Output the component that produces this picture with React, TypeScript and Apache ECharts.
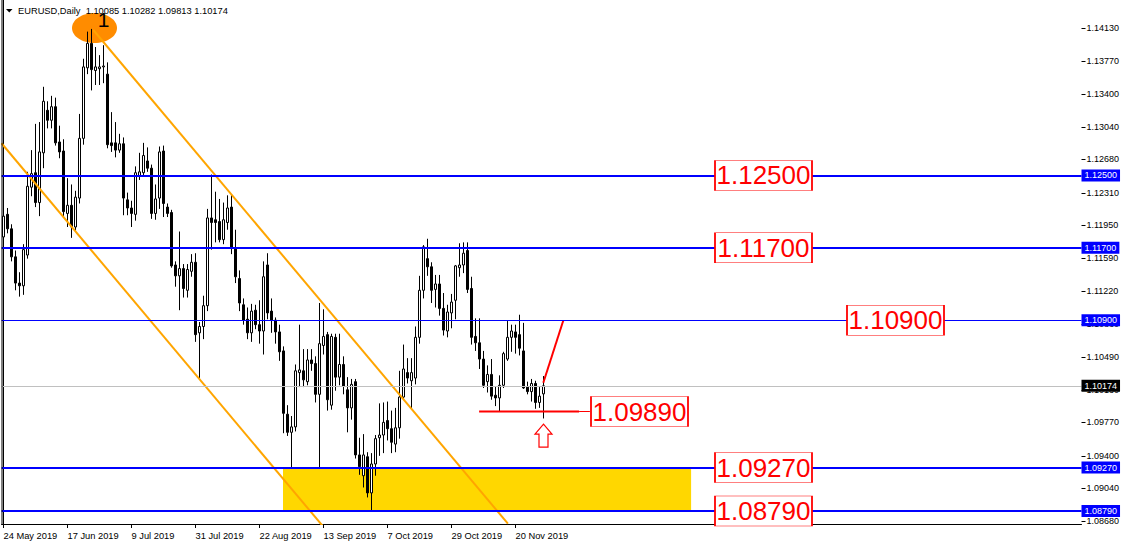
import React, { useEffect, useRef } from "react";
import * as echarts from "echarts";

// ---------- data ----------
const MONTHS = ["Jan", "Feb", "Mar", "Apr", "May", "Jun", "Jul", "Aug", "Sep", "Oct", "Nov", "Dec"];
const FIRST_DAY = [2019, 4, 24];
const N_SLOTS = 270; // visible bar slots incl. empty right shift

// daily bars: [open, high, low, close]
const ohlc: number[][] = [
  [1.1182, 1.1215, 1.1176, 1.1205], [1.1207, 1.1214, 1.1186, 1.1191], [1.1191, 1.1196, 1.1155, 1.116],
  [1.116, 1.1167, 1.1123, 1.1131], [1.1131, 1.1143, 1.1116, 1.1128], [1.1128, 1.1174, 1.1118, 1.1168],
  [1.1162, 1.1254, 1.1158, 1.1238], [1.1237, 1.1278, 1.1227, 1.1252], [1.1253, 1.1307, 1.1215, 1.122],
  [1.122, 1.1309, 1.1205, 1.1276], [1.1275, 1.1348, 1.1258, 1.1332], [1.1322, 1.1332, 1.1302, 1.1311],
  [1.1311, 1.1338, 1.1302, 1.1326], [1.1326, 1.1336, 1.1283, 1.1286], [1.1287, 1.1305, 1.1269, 1.1276],
  [1.1277, 1.129, 1.1204, 1.121], [1.1208, 1.1247, 1.1193, 1.1217], [1.1217, 1.124, 1.1181, 1.1193],
  [1.1193, 1.1233, 1.1189, 1.1226], [1.1225, 1.1318, 1.1219, 1.1291], [1.1291, 1.1379, 1.1284, 1.137],
  [1.1369, 1.1409, 1.1362, 1.1396], [1.1396, 1.1412, 1.1344, 1.1367], [1.1366, 1.1392, 1.135, 1.137],
  [1.1368, 1.1383, 1.135, 1.137], [1.137, 1.1394, 1.1352, 1.1371], [1.1362, 1.1375, 1.128, 1.1284],
  [1.1286, 1.132, 1.1276, 1.1283], [1.1286, 1.1309, 1.127, 1.1278], [1.1278, 1.1296, 1.1275, 1.1285],
  [1.1285, 1.1292, 1.1206, 1.1225], [1.1223, 1.1231, 1.1206, 1.1214], [1.1214, 1.1222, 1.1193, 1.1208],
  [1.1207, 1.126, 1.12, 1.1253], [1.1249, 1.1275, 1.1245, 1.1254], [1.1253, 1.1286, 1.125, 1.1272],
  [1.1266, 1.1281, 1.1254, 1.1258], [1.1258, 1.1262, 1.1202, 1.1208], [1.1208, 1.124, 1.1201, 1.1224],
  [1.1225, 1.1282, 1.1213, 1.1276], [1.1277, 1.1283, 1.1204, 1.1219], [1.1215, 1.1219, 1.1204, 1.1208],
  [1.1209, 1.1212, 1.1148, 1.115], [1.1151, 1.1155, 1.1127, 1.1139], [1.1139, 1.1188, 1.1101, 1.1147],
  [1.1147, 1.1152, 1.1115, 1.1125], [1.1123, 1.1152, 1.1115, 1.1146], [1.1144, 1.1163, 1.1138, 1.1154],
  [1.1154, 1.1164, 1.1066, 1.1074], [1.1076, 1.1088, 1.1026, 1.1083], [1.1083, 1.1117, 1.1069, 1.1106],
  [1.1106, 1.1213, 1.11, 1.1203], [1.1203, 1.1251, 1.1168, 1.1198], [1.1201, 1.1232, 1.1176, 1.1198],
  [1.1199, 1.1224, 1.1176, 1.1179], [1.1179, 1.122, 1.1174, 1.1201], [1.1198, 1.1228, 1.119, 1.1214],
  [1.1215, 1.1229, 1.1163, 1.117], [1.117, 1.119, 1.1131, 1.1138], [1.1136, 1.1145, 1.11, 1.1109],
  [1.1107, 1.1114, 1.1085, 1.109], [1.1091, 1.1104, 1.1069, 1.1076], [1.1076, 1.1108, 1.1066, 1.11],
  [1.1101, 1.1107, 1.108, 1.1085], [1.1085, 1.1112, 1.1064, 1.1078], [1.1078, 1.1155, 1.1052, 1.1138],
  [1.1151, 1.1164, 1.1091, 1.1098], [1.11, 1.1114, 1.1076, 1.109], [1.109, 1.1093, 1.1064, 1.1077],
  [1.1077, 1.1085, 1.1045, 1.1055], [1.1056, 1.1061, 1.0965, 1.0987], [1.0986, 1.0996, 1.0962, 1.0966],
  [1.0966, 1.0984, 1.0926, 1.0972], [1.0972, 1.1041, 1.0967, 1.1034], [1.1032, 1.1085, 1.1016, 1.1035],
  [1.1034, 1.1058, 1.1016, 1.1024], [1.1022, 1.1058, 1.1018, 1.1046], [1.1046, 1.1058, 1.1034, 1.1042],
  [1.1042, 1.105, 1.0999, 1.1008], [1.1008, 1.1109, 1.0927, 1.1064], [1.1062, 1.1102, 1.1052, 1.1072],
  [1.1074, 1.1077, 1.099, 1.1002], [1.0996, 1.1075, 1.0991, 1.1072], [1.1071, 1.1075, 1.1012, 1.1027],
  [1.1027, 1.1075, 1.1018, 1.1041], [1.1041, 1.105, 1.1008, 1.1017], [1.1013, 1.1027, 1.0966, 1.0993],
  [1.0993, 1.1025, 1.098, 1.1019], [1.1022, 1.1025, 1.0937, 1.0941], [1.0941, 1.096, 1.0919, 1.0928],
  [1.0918, 1.0964, 1.0905, 1.0941], [1.0939, 1.0944, 1.0894, 1.0899], [1.0899, 1.0943, 1.0879, 1.0931],
  [1.0931, 1.0963, 1.0918, 1.0959], [1.096, 1.0998, 1.094, 1.0963], [1.0963, 1.0999, 1.0943, 1.0977],
  [1.0979, 1.1, 1.0957, 1.097], [1.097, 1.099, 1.0943, 1.0955], [1.0953, 1.0993, 1.0944, 1.0971],
  [1.0971, 1.1034, 1.0959, 1.1005], [1.1005, 1.1063, 1.1002, 1.1036], [1.1032, 1.1048, 1.102, 1.1026],
  [1.1023, 1.1048, 1.0992, 1.1032], [1.1026, 1.1083, 1.1019, 1.1071], [1.1071, 1.1139, 1.1064, 1.1123],
  [1.1123, 1.1173, 1.1114, 1.1171], [1.1158, 1.118, 1.1139, 1.1149], [1.1149, 1.1154, 1.1109, 1.1123],
  [1.1124, 1.114, 1.1104, 1.113], [1.113, 1.114, 1.1095, 1.1103], [1.1103, 1.112, 1.1073, 1.1079],
  [1.1078, 1.1107, 1.1071, 1.1099], [1.1098, 1.1119, 1.1081, 1.111], [1.1112, 1.1151, 1.1091, 1.115],
  [1.1148, 1.1175, 1.1138, 1.1151], [1.1151, 1.1176, 1.1142, 1.1164], [1.1167, 1.1176, 1.112, 1.1124],
  [1.1125, 1.1138, 1.1063, 1.1071], [1.1072, 1.1092, 1.1056, 1.1065], [1.1065, 1.1092, 1.1036, 1.1047],
  [1.1047, 1.1056, 1.1015, 1.1018], [1.1022, 1.104, 1.101, 1.103], [1.103, 1.1047, 1.1002, 1.1006],
  [1.1007, 1.1017, 1.0995, 1.1004], [1.1004, 1.1029, 1.0989, 1.1018], [1.1018, 1.1055, 1.1015, 1.1053],
  [1.1047, 1.1089, 1.1045, 1.1071], [1.1071, 1.1085, 1.1055, 1.1078], [1.1077, 1.1085, 1.1053, 1.1071],
  [1.1074, 1.1096, 1.1051, 1.1059], [1.1056, 1.1087, 1.1014, 1.1015], [1.1016, 1.1022, 1.1008, 1.1011],
  [1.1011, 1.1025, 1.1, 1.102], [1.102, 1.1023, 1.0992, 1.0999], [1.0999, 1.1016, 1.0993, 1.1006],
  [1.10085, 1.10282, 1.09813, 1.10174],
];

const yTicks = [1.0868, 1.0904, 1.094, 1.0977, 1.1013, 1.1049, 1.1086, 1.1122, 1.1159, 1.1195,
  1.1231, 1.1268, 1.1304, 1.134, 1.1377, 1.1413];
const thickLevels = [1.125, 1.117, 1.0927, 1.0879];
const thinLevels = [1.109];
const bidPrice = 1.10174;
const priceBoxes = [1.125, 1.117, 1.109, 1.0989, 1.0927, 1.0879];
const supportPrice = 1.0989;
const zonePrices = [1.0926, 1.088];
const titleText = "EURUSD,Daily  1.10085 1.10282 1.09813 1.10174";
const waveLabel = "1";

// ---------- helpers ----------
function tradingDays(n: number): string[] {
  const out: string[] = [];
  const d = new Date(Date.UTC(FIRST_DAY[0], FIRST_DAY[1], FIRST_DAY[2]));
  while (out.length < n) {
    const wd = d.getUTCDay();
    if (wd !== 0 && wd !== 6) out.push(`${d.getUTCDate()} ${MONTHS[d.getUTCMonth()]} ${d.getUTCFullYear()}`);
    d.setUTCDate(d.getUTCDate() + 1);
  }
  return out;
}

const dates = tradingDays(ohlc.length);
const categories = [...dates, ...Array.from({ length: N_SLOTS - dates.length }, (_, i) => `slot${i}`)];
const candleData = ohlc.map(([o, h, l, c]) => [o, c, l, h]);

const Y_MIN = 1.086463;
const Y_MAX = 1.144396;
const FONT = "Liberation Sans";

const showEvery16 = (idx: number) => idx % 16 === 0 && idx < dates.length - 4;

export default function App() {
  const ref = useRef<HTMLDivElement>(null);
  useEffect(() => {
    if (!ref.current) return;
    const chart = echarts.init(ref.current, null, { renderer: "svg" });
    const lineSeries = (name: string, pts: number[][], color: string, width: number, z: number) => ({
      name, type: "line", xAxisIndex: 1, yAxisIndex: 0, data: pts, symbol: "none", showSymbol: false,
      lineStyle: { color, width }, z, silent: true, clip: true,
    });
    const blueLabel = {
      show: true, position: "end", distance: 0, formatter: (p: any) => Number(p.value).toFixed(5),
      color: "#fff", backgroundColor: "#0000FF", padding: [2, 3, 1, 3], fontSize: 9, fontFamily: FONT,
    };
    chart.setOption({
      animation: false,
      backgroundColor: "#fff",
      grid: { left: 1.5, right: 43.5, top: 0, bottom: 22, containLabel: false },
      xAxis: [
        {
          type: "category", data: categories, boundaryGap: true,
          axisLine: { lineStyle: { color: "#000", width: 1 } },
          axisTick: { show: true, alignWithLabel: true, interval: showEvery16, length: 4, lineStyle: { color: "#000" } },
          axisLabel: { interval: showEvery16, align: "left", margin: 7, color: "#000", fontSize: 9.3, fontFamily: FONT },
          splitLine: { show: false },
        },
        { type: "value", min: -0.5, max: N_SLOTS - 0.5, show: false },
      ],
      yAxis: [
        {
          type: "value", position: "right", min: Y_MIN, max: Y_MAX, scale: true,
          axisLine: { show: true, lineStyle: { color: "#000", width: 1 } },
          axisTick: { show: false },
          axisLabel: {
            show: true, customValues: yTicks, margin: 5, color: "#000", fontSize: 9, fontFamily: FONT,
            formatter: (v: number) => v.toFixed(5),
          },
          splitLine: { show: false },
        },
      ],
      series: [
        {
          name: "zone", type: "custom", xAxisIndex: 1, yAxisIndex: 0, z: 1, silent: true,
          data: [[69.875, 171.9, zonePrices[0], zonePrices[1]]],
          renderItem: (_p: any, api: any) => {
            const a = api.coord([api.value(0), api.value(2)]);
            const b = api.coord([api.value(1), api.value(3)]);
            return { type: "rect", shape: { x: a[0], y: a[1], width: b[0] - a[0], height: b[1] - a[1] }, style: { fill: "#FFD700" } };
          },
        },
        {
          name: "EURUSD", type: "candlestick", xAxisIndex: 0, yAxisIndex: 0, z: 2, barWidth: 2,
          data: candleData,
          itemStyle: { color: "#fff", color0: "#000", borderColor: "#000", borderColor0: "#000", borderWidth: 1 },
        },
        {
          name: "levels", type: "line", xAxisIndex: 1, yAxisIndex: 0, data: [], z: 3, silent: true,
          markLine: {
            silent: true, symbol: ["none", "none"], precision: 5,
            data: [
              { yAxis: bidPrice, lineStyle: { color: "#C0C0C0", width: 1, type: "solid" },
                label: { ...blueLabel, backgroundColor: "#000" } },
              ...thickLevels.map((v) => ({ yAxis: v, lineStyle: { color: "#0000FF", width: 2, type: "solid" }, label: blueLabel })),
              ...thinLevels.map((v) => ({ yAxis: v, lineStyle: { color: "#0000FF", width: 1, type: "solid" }, label: blueLabel })),
            ],
          },
        },
        lineSeries("channelLow", [[-0.5, 1.12856], [80, 1.08614]], "#FFA500", 2, 4),
        lineSeries("channelHigh", [[22.45, 1.14108], [126.1, 1.0865]], "#FFA500", 2, 4),
        lineSeries("support", [[118.9, supportPrice], [143.9, supportPrice]], "#FF0000", 2, 4),
        lineSeries("supportLink", [[143.9, supportPrice], [146.6, supportPrice]], "#FF0000", 1, 4),
        lineSeries("projection", [[134.95, 1.10208], [139.95, 1.10896]], "#FF0000", 2, 4),
        {
          name: "boxes", type: "line", xAxisIndex: 1, yAxisIndex: 0, data: [], z: 6, silent: true,
          markPoint: {
            silent: true, symbol: "rect", symbolSize: [97, 30],
            itemStyle: { color: "#fff", borderColor: "#FF0000", borderWidth: 1 },
            label: {
              show: true, position: "inside", color: "#FF0000", fontSize: 26, fontFamily: FONT,
              formatter: (p: any) => Number(p.value).toFixed(5),
            },
            data: priceBoxes.map((v) => ({
              coord: [v === 1.109 ? 223 : v === supportPrice ? 159 : 190, v], value: v,
            })),
          },
        },
      ],
    });

    const px = (x: number, p: number) => chart.convertToPixel({ xAxisIndex: 1, yAxisIndex: 0 }, [x, p]) as number[];
    const c = px(22.75, 1.1413);
    const a = px(135, 1.0975);
    const ax = a[0], ay = a[1];
    const bottomLeft = px(-0.5, Y_MIN);
    const rightEdge = px(N_SLOTS - 0.5, Y_MIN)[0];
    const tickMarks = yTicks.map((v) => {
      const y = Math.round(px(0, v)[1]) + 0.5;
      return { type: "line", z: 5, silent: true, shape: { x1: rightEdge, y1: y, x2: rightEdge + 4, y2: y }, style: { stroke: "#000", lineWidth: 1 } };
    });
    chart.setOption({
      graphic: [
        ...tickMarks,
        { type: "line", z: 5, silent: true, shape: { x1: bottomLeft[0] + 0.5, y1: 0, x2: bottomLeft[0] + 0.5, y2: bottomLeft[1] }, style: { stroke: "#000", lineWidth: 1 } },
        { type: "ellipse", z: 1, silent: true, shape: { cx: c[0], cy: c[1], rx: 22.5, ry: 15 }, style: { fill: "#FF8C00" } },
        { type: "text", z: 10, silent: true, x: c[0] + 9, y: c[1] - 9, style: { text: waveLabel, fill: "#000", fontSize: 21, fontFamily: FONT, align: "center", verticalAlign: "middle" } },
        { type: "polygon", z: 10, silent: true, shape: { points: [[6, 9], [12.5, 9], [9.25, 12.5]] }, style: { fill: "#000" } },
        { type: "text", z: 10, silent: true, x: 18, y: 11, style: { text: titleText, fill: "#000", fontSize: 9.3, fontFamily: FONT, verticalAlign: "middle" } },
        {
          type: "polygon", z: 10, silent: true,
          shape: { points: [[ax, ay], [ax + 8.5, ay + 10], [ax + 4.5, ay + 10], [ax + 4.5, ay + 23], [ax - 4.5, ay + 23], [ax - 4.5, ay + 10], [ax - 8.5, ay + 10]] },
          style: { fill: "#fff", stroke: "#FF0000", lineWidth: 1.2 },
        },
      ],
    });
    return () => chart.dispose();
  }, []);
  return <div ref={ref} style={{ position: "fixed", left: 0, top: 0, width: 1125, height: 546, background: "#fff" }} />;
}
